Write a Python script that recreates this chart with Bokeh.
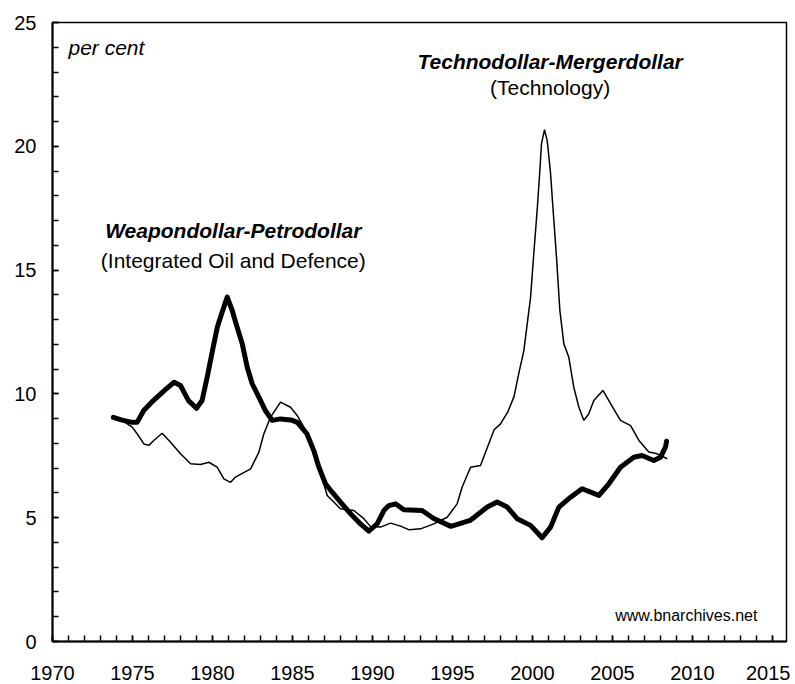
from bokeh.plotting import figure
from bokeh.embed import file_html
from bokeh.resources import INLINE
from bokeh.models import SingleIntervalTicker, Range1d
from bokeh.core.properties import value

# Weapondollar-Petrodollar (Integrated Oil and Defence) - thick line
oil_years = [1973.8, 1974.3, 1974.9, 1975.3, 1975.7, 1976.3, 1977.0, 1977.6, 1978.0, 1978.5,
             1979.0, 1979.35, 1979.67, 1980.0, 1980.3, 1980.6, 1980.92, 1981.23, 1981.54, 1981.86,
             1982.17, 1982.48, 1982.9, 1983.3, 1983.73, 1984.25, 1984.9, 1985.3, 1985.9, 1986.33,
             1986.65, 1987.06, 1987.48, 1988.0, 1988.63, 1989.25, 1989.77, 1990.29, 1990.71, 1991.02,
             1991.44, 1991.96, 1993.1, 1993.8, 1994.9, 1996.1, 1997.17, 1997.79, 1998.42, 1999.04,
             1999.88, 2000.6, 2001.13, 2001.65, 2002.38, 2003.1, 2004.15, 2004.77, 2005.5, 2006.33,
             2006.85, 2007.58, 2008.0, 2008.31, 2008.38]
oil_vals = [9.05, 8.95, 8.86, 8.86, 9.33, 9.73, 10.14, 10.47, 10.34, 9.73,
            9.42, 9.73, 10.68, 11.75, 12.69, 13.30, 13.91, 13.37, 12.69, 12.02,
            11.08, 10.41, 9.87, 9.33, 8.93, 8.99, 8.95, 8.85, 8.39, 7.71,
            7.04, 6.37, 6.03, 5.63, 5.16, 4.75, 4.46, 4.75, 5.29, 5.49,
            5.56, 5.32, 5.29, 4.98, 4.65, 4.89, 5.43, 5.63, 5.43, 4.96,
            4.69, 4.19, 4.62, 5.43, 5.83, 6.17, 5.90, 6.37, 7.04, 7.44,
            7.51, 7.31, 7.44, 7.85, 8.09]

# Technodollar-Mergerdollar (Technology) - thin line
tech_years = [1973.8, 1974.3, 1974.98, 1975.29, 1975.71, 1976.02, 1976.33, 1976.85, 1977.38, 1978.0,
              1978.63, 1979.25, 1979.77, 1980.29, 1980.71, 1981.13, 1981.44, 1982.38, 1982.9, 1983.21,
              1983.63, 1984.25, 1984.88, 1985.29, 1985.9, 1986.4, 1986.8, 1987.17, 1988.0, 1988.83,
              1989.46, 1989.88, 1990.5, 1991.13, 1991.75, 1992.3, 1993.0, 1993.83, 1994.67, 1995.29,
              1995.6, 1996.13, 1996.75, 1997.6, 1998.0, 1998.45, 1998.85, 1999.15, 1999.46, 1999.67,
              1999.88, 2000.08, 2000.29, 2000.46, 2000.56, 2000.75, 2000.92, 2001.13, 2001.29, 2001.5,
              2001.71, 2001.96, 2002.27, 2002.58, 2002.9, 2003.21, 2003.52, 2003.83, 2004.4, 2004.98,
              2005.5, 2006.13, 2006.65, 2007.27, 2007.79, 2008.42]
tech_vals = [9.1, 8.95, 8.66, 8.39, 7.98, 7.92, 8.12, 8.41, 8.05, 7.58,
             7.18, 7.15, 7.24, 7.04, 6.57, 6.43, 6.64, 6.97, 7.65, 8.39,
             9.06, 9.67, 9.46, 9.13, 8.45, 7.6, 6.7, 5.9, 5.36, 5.29,
             4.96, 4.64, 4.62, 4.78, 4.66, 4.51, 4.55, 4.75, 5.02, 5.56,
             6.23, 7.04, 7.11, 8.55, 8.79, 9.26, 9.9, 10.85, 11.75, 12.83,
             13.91, 15.66, 17.41, 19.02, 20.1, 20.67, 20.23, 18.89, 17.41, 15.52,
             13.37, 12.02, 11.48, 10.27, 9.46, 8.93, 9.2, 9.73, 10.14, 9.5,
             8.93, 8.72, 8.12, 7.65, 7.58, 7.38]

x_start, x_end = 1970, 2015
y_start, y_end = 0, 25

FONT = "Liberation Sans"

p = figure(width=790, height=683, output_backend="svg", toolbar_location=None,
           x_range=Range1d(x_start, 2015.875), y_range=Range1d(y_start, y_end),
           min_border_left=52, min_border_right=4, min_border_top=22, min_border_bottom=42)

p.background_fill_color = "white"
p.border_fill_color = "white"
p.outline_line_color = "black"
p.outline_line_width = 1.5
p.xgrid.visible = False
p.ygrid.visible = False

p.xaxis.ticker = SingleIntervalTicker(interval=5, num_minor_ticks=5)
p.yaxis.ticker = SingleIntervalTicker(interval=5, num_minor_ticks=5)
for ax in (p.xaxis, p.yaxis):
    ax.axis_line_width = 2
    ax.axis_line_color = "black"
    ax.major_tick_in = 6
    ax.major_tick_out = 0
    ax.minor_tick_in = 6
    ax.minor_tick_out = 0
    ax.major_tick_line_width = 1.5
    ax.minor_tick_line_width = 1.5
    ax.major_tick_line_color = "black"
    ax.minor_tick_line_color = "black"
    ax.major_label_text_font = FONT
    ax.major_label_text_font_size = "20px"
    ax.major_label_text_color = "black"
p.xaxis.major_label_standoff = 24
p.yaxis.major_label_standoff = 16

p.line(tech_years, tech_vals, line_color="black", line_width=1.5)
p.line(oil_years, oil_vals, line_color="black", line_width=5, line_join="round", line_cap="round")

p.text(x=[1971.0], y=[23.98], text=["per cent"], text_font=value(FONT), text_font_size="21px",
       text_font_style="italic", text_align="left", text_baseline="alphabetic", text_color="black")

p.text(x=[1981.3], y=[16.6], text=["Weapondollar-Petrodollar"], text_font=value(FONT),
       text_font_size="21px", text_font_style="bold italic", text_align="center",
       text_baseline="alphabetic", text_color="black")
p.text(x=[1981.3], y=[15.4], text=["(Integrated Oil and Defence)"], text_font=value(FONT),
       text_font_size="21px", text_align="center", text_baseline="alphabetic", text_color="black")

p.text(x=[2001.1], y=[23.42], text=["Technodollar-Mergerdollar"], text_font=value(FONT),
       text_font_size="21px", text_font_style="bold italic", text_align="center",
       text_baseline="alphabetic", text_color="black")
p.text(x=[2001.1], y=[22.37], text=["(Technology)"], text_font=value(FONT),
       text_font_size="21px", text_align="center", text_baseline="alphabetic", text_color="black")

p.text(x=[2014.06], y=[1.05], text=["www.bnarchives.net"], text_font=value(FONT),
       text_font_size="16px", text_align="right", text_baseline="alphabetic", text_color="black")

open("out.html", "w").write(file_html(p, INLINE))
